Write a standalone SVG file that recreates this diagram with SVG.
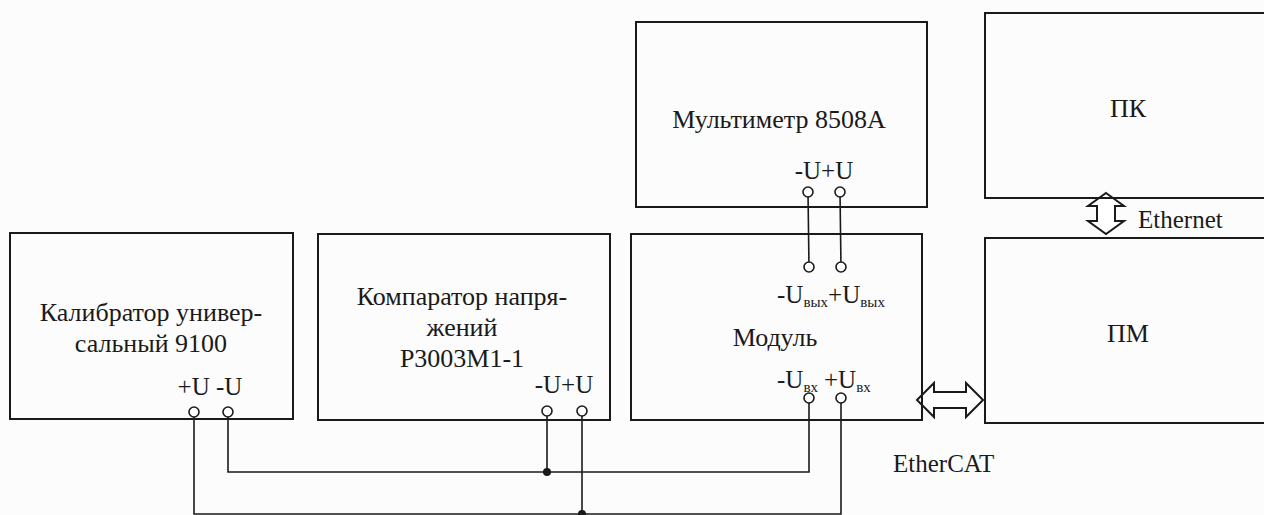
<svg xmlns="http://www.w3.org/2000/svg" width="1264" height="515" viewBox="0 0 1264 515">
<style>
.box{fill:none;stroke:#1a1a1a;stroke-width:2}
.w{fill:none;stroke:#1a1a1a;stroke-width:1.6}
.term{fill:#fff;stroke:#1a1a1a;stroke-width:1.6}
.dot{fill:#1a1a1a}
.arr{fill:#fff;stroke:#1a1a1a;stroke-width:2;stroke-linejoin:miter}
</style>
<rect width="1264" height="515" fill="#fcfcfc"/>
<g id="connectors">
<polyline class="w" points="228,412 228,472 809,472 809,398"/>
<polyline class="w" points="194,412 194,514 841,514 841,398"/>
<line class="w" x1="547" y1="411" x2="547" y2="472"/>
<line class="w" x1="582" y1="411" x2="582" y2="514"/>
<line class="w" x1="808" y1="192" x2="809" y2="267"/>
<line class="w" x1="840" y1="192" x2="841" y2="267"/>
<circle class="dot" cx="547" cy="472" r="4"/>
<circle class="dot" cx="582" cy="514" r="4"/>
<path id="ethernet" class="arr" d="M1106,193 L1124,206 L1115,206 L1115,221 L1124,221 L1106,234 L1088,221 L1097,221 L1097,206 L1088,206 Z"/>
<text x="1138" y="228" font-family="Liberation Serif" font-size="25" fill="#1a1a1a">Ethernet</text>
<path id="ethercat" class="arr" d="M917,400 L934,383 L934,392 L966,392 L966,383 L983,400 L966,417 L966,408 L934,408 L934,417 Z"/>
<text x="893" y="472" font-family="Liberation Serif" font-size="25" fill="#1a1a1a">EtherCAT</text>
</g>
<g id="calibrator">
<rect class="box" x="10" y="233" width="283" height="186"/>
<circle class="term" cx="194" cy="412" r="5"/>
<circle class="term" cx="228" cy="412" r="5"/>
<g font-family="Liberation Serif" fill="#1a1a1a" text-anchor="middle">
<text x="151" y="321" font-size="26">Калибратор универ-</text>
<text x="151" y="352" font-size="26">сальный 9100</text>
<text x="210" y="395" font-size="25">+U -U</text>
</g>
</g>
<g id="comparator">
<rect class="box" x="318" y="234" width="292" height="186"/>
<circle class="term" cx="547" cy="411" r="5"/>
<circle class="term" cx="582" cy="411" r="5"/>
<g font-family="Liberation Serif" fill="#1a1a1a" text-anchor="middle">
<text x="462" y="305" font-size="26">Компаратор напря-</text>
<text x="462" y="336" font-size="26">жений</text>
<text x="462" y="367" font-size="26">Р3003М1-1</text>
<text x="564" y="393" font-size="25">-U+U</text>
</g>
</g>
<g id="module">
<rect class="box" x="631" y="234" width="291" height="186"/>
<circle class="term" cx="809" cy="267" r="5"/>
<circle class="term" cx="841" cy="267" r="5"/>
<circle class="term" cx="809" cy="398" r="5"/>
<circle class="term" cx="841" cy="398" r="5"/>
<g font-family="Liberation Serif" fill="#1a1a1a">
<text x="777" y="303" font-size="25">-U<tspan font-size="15" dy="4">вых</tspan><tspan dy="-4">+U</tspan><tspan font-size="15" dy="4">вых</tspan></text>
<text x="775" y="346" font-size="26" text-anchor="middle">Модуль</text>
<text x="777" y="388" font-size="25">-U<tspan font-size="15" dy="4">вх</tspan><tspan dx="6" dy="-4">+U</tspan><tspan font-size="15" dy="4">вх</tspan></text>
</g>
</g>
<g id="multimeter">
<rect class="box" x="636" y="22" width="291" height="185"/>
<circle class="term" cx="808" cy="192" r="5"/>
<circle class="term" cx="840" cy="192" r="5"/>
<g font-family="Liberation Serif" fill="#1a1a1a" text-anchor="middle">
<text x="779" y="128" font-size="26">Мультиметр 8508А</text>
<text x="824" y="179" font-size="25">-U+U</text>
</g>
</g>
<g id="pc">
<rect class="box" x="985" y="13" width="290" height="185"/>
<text x="1128" y="117" font-family="Liberation Serif" font-size="26" fill="#1a1a1a" text-anchor="middle">ПК</text>
</g>
<g id="pm">
<rect class="box" x="985" y="238" width="290" height="185"/>
<text x="1128" y="342" font-family="Liberation Serif" font-size="26" fill="#1a1a1a" text-anchor="middle">ПМ</text>
</g>
</svg>
